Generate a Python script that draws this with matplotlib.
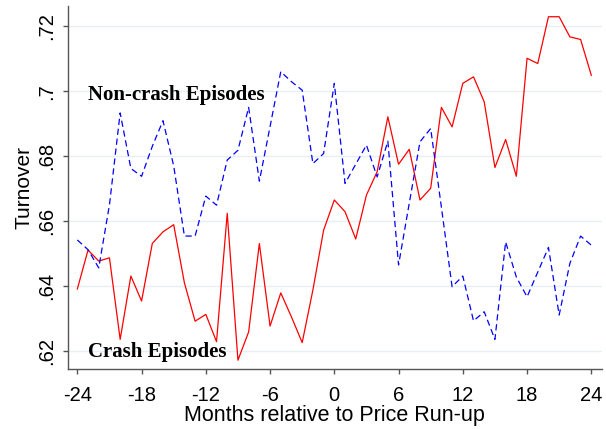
import numpy as np
import matplotlib
import matplotlib.pyplot as plt

matplotlib.use("Agg")

months = np.arange(-24, 25)

crash = [
    0.6391, 0.6511, 0.6477, 0.6487, 0.6236, 0.6431, 0.6354, 0.6531, 0.6567, 0.6589,
    0.6410, 0.6292, 0.6313, 0.6229, 0.6624, 0.6172, 0.6259, 0.6531, 0.6277, 0.6379,
    0.6305, 0.6226, 0.6388, 0.6572, 0.6665, 0.6629, 0.6545, 0.6680, 0.6752, 0.6921,
    0.6775, 0.6821, 0.6665, 0.6701, 0.6950, 0.6890, 0.7024, 0.7044, 0.6967, 0.6765,
    0.6851, 0.6738, 0.7101, 0.7085, 0.7229, 0.7229, 0.7167, 0.7159, 0.7049,
]

non_crash = [
    0.6542, 0.6512, 0.6456, 0.6650, 0.6933, 0.6762, 0.6738, 0.6830, 0.6909, 0.6770,
    0.6554, 0.6554, 0.6677, 0.6649, 0.6788, 0.6818, 0.6950, 0.6723, 0.6891, 0.7060,
    0.7029, 0.7003, 0.6777, 0.6808, 0.7024, 0.6716, 0.6775, 0.6834, 0.6736, 0.6846,
    0.6465, 0.6655, 0.6844, 0.6885, 0.6643, 0.6398, 0.6431, 0.6293, 0.6321, 0.6236,
    0.6536, 0.6428, 0.6367, 0.6443, 0.6519, 0.6311, 0.6470, 0.6554, 0.6526,
]

x_ticks = [-24, -18, -12, -6, 0, 6, 12, 18, 24]
y_ticks = [0.62, 0.64, 0.66, 0.68, 0.70, 0.72]
y_tick_labels = [".62", ".64", ".66", ".68", ".7", ".72"]

plt.rcParams["font.family"] = ["Liberation Sans", "DejaVu Sans"]

fig = plt.figure(figsize=(6.06, 4.29), dpi=100)
ax = fig.add_axes([0.1117, 0.1392, 0.8817, 0.8468])

ax.plot(months, crash, color="#ff0000", lw=0.9)
ax.plot(months, non_crash, color="#0000ff", lw=0.9, dashes=(5, 3))

ax.set_xlim(-24.9, 25.0)
ax.set_ylim(0.6144, 0.7262)

ax.set_xticks(x_ticks)
ax.set_xticklabels([str(t) for t in x_ticks])
ax.set_yticks(y_ticks)
ax.set_yticklabels(y_tick_labels, rotation=90, va="center")

ax.grid(axis="y", color="#e6eff1", lw=1.0)
ax.set_axisbelow(True)

for side in ["top", "right"]:
    ax.spines[side].set_visible(False)
for side in ["left", "bottom"]:
    ax.spines[side].set_color("#555555")
    ax.spines[side].set_linewidth(1.0)

ax.tick_params(axis="both", colors="#555555", labelcolor="black",
               labelsize=14.5, length=3.6, width=1.0)
ax.tick_params(axis="x", pad=8.5)
ax.tick_params(axis="y", pad=5)

ax.set_xlabel("Months relative to Price Run-up", fontsize=15.5, labelpad=0)
ax.set_ylabel("Turnover", fontsize=15, labelpad=2)

ax.text(-23.0, 0.6988, "Non-crash Episodes", family="Liberation Serif",
        fontweight="bold", fontsize=15, va="center", ha="left")
ax.text(-23.0, 0.6198, "Crash Episodes", family="Liberation Serif",
        fontweight="bold", fontsize=15, va="center", ha="left")

fig.savefig("out.png", dpi=100)
plt.close(fig)
